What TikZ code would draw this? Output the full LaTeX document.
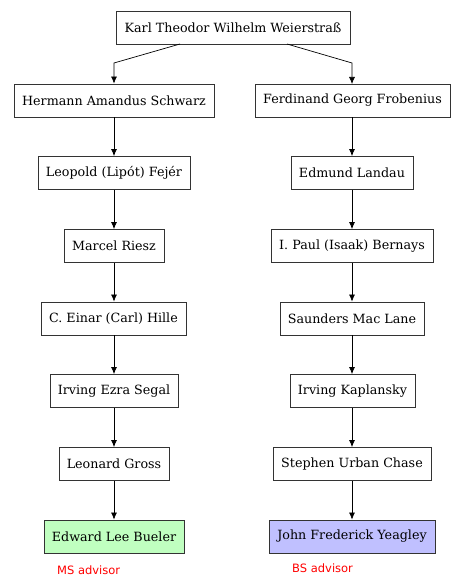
\documentclass[tikz,border=0pt]{standalone}
\usepackage{fontspec}
\setmainfont{DejaVu Serif}
\newfontfamily\labelfont{DejaVu Sans}
\usetikzlibrary{arrows.meta}
\begin{document}
\begin{tikzpicture}[x=1pt,y=-1pt,
  person/.style={draw=black!80, line width=0.8pt, minimum height=33pt, inner sep=0pt, font=\fontsize{12.7}{15}\selectfont, fill=white},
  edge/.style={line width=0.7pt, -{Latex[length=7pt,width=6pt]}},
  note/.style={font=\labelfont\fontsize{11.5}{13}\selectfont, text=red, inner sep=0pt}]
\useasboundingbox (0,0) rectangle (465,580);
\node[person, minimum width=234pt] (kw) at (233,27.5) {Karl Theodor Wilhelm Weierstraß};
\node[person, minimum width=200pt] (hs) at (114,100.5) {Hermann Amandus Schwarz};
\node[person, minimum width=195pt] (fg) at (352.5,100.5) {Ferdinand Georg Frobenius};
\node[person, minimum width=152pt] (lf) at (114,173) {Leopold (Lipót) Fejér};
\node[person, minimum width=122pt] (el) at (352,173) {Edmund Landau};
\node[person, minimum width=100pt] (mr) at (114,246) {Marcel Riesz};
\node[person, minimum width=162pt] (pb) at (352,246) {I. Paul (Isaak) Bernays};
\node[person, minimum width=145pt] (eh) at (113.5,318.5) {C. Einar (Carl) Hille};
\node[person, minimum width=144pt] (sm) at (352,318.5) {Saunders Mac Lane};
\node[person, minimum width=128pt] (is) at (114,391) {Irving Ezra Segal};
\node[person, minimum width=125pt] (ik) at (352.5,391) {Irving Kaplansky};
\node[person, minimum width=110pt] (lg) at (114,464) {Leonard Gross};
\node[person, minimum width=158pt] (sc) at (352,464) {Stephen Urban Chase};
\node[person, minimum width=140pt, fill={rgb,255:red,192;green,255;blue,192}] (eb) at (114,536.5) {Edward Lee Bueler};
\node[person, minimum width=166pt, fill={rgb,255:red,192;green,192;blue,255}] (jy) at (352,536.5) {John Frederick Yeagley};
\node[note, anchor=west] (ms) at (57,570) {MS advisor};
\node[note, anchor=west] (bs) at (292,568) {BS advisor};
\coordinate (kl) at (180,44);
\coordinate (kr) at (287,44);
\draw[edge] (kl) -- (114,63) -- (hs.north);
\draw[edge] (kr) -- (352,63) -- (352,84);
\draw[edge] (hs) -- (lf);
\draw[edge] (lf) -- (mr);
\draw[edge] (mr) -- (eh.north -| mr);
\draw[edge] (eh.south -| mr) -- (is);
\draw[edge] (is) -- (lg);
\draw[edge] (lg) -- (eb);
\draw[edge] (fg.south -| el) -- (el);
\draw[edge] (el) -- (pb);
\draw[edge] (pb) -- (sm);
\draw[edge] (sm) -- (ik.north -| sm);
\draw[edge] (ik.south -| sm) -- (sc);
\draw[edge] (sc) -- (jy);
\end{tikzpicture}
\end{document}
